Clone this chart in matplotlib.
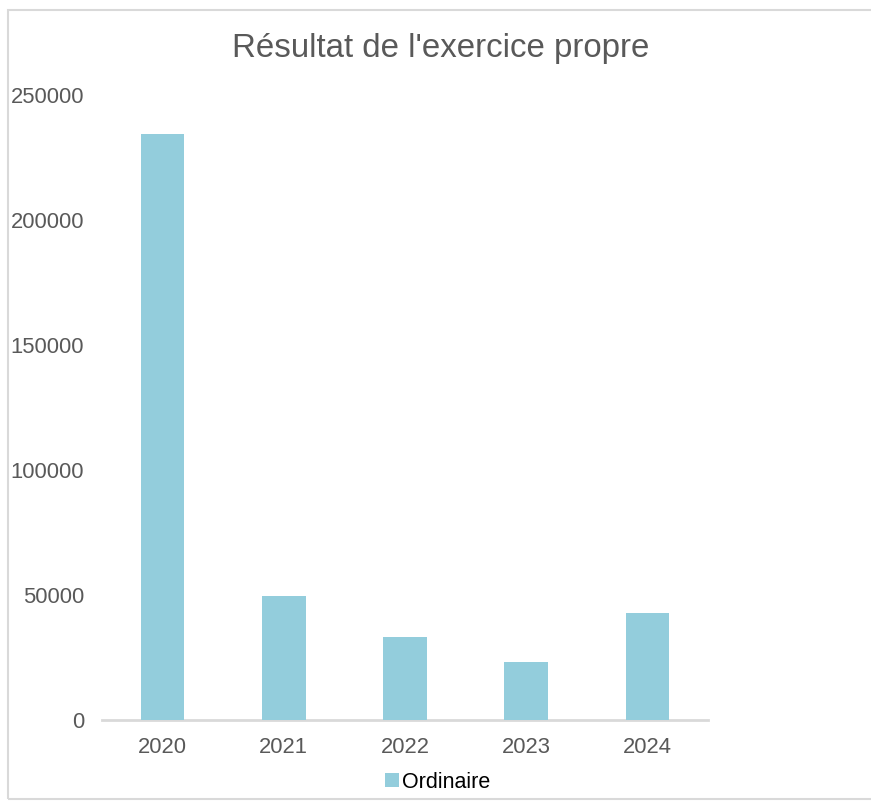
import matplotlib

matplotlib.use("Agg")
import matplotlib.pyplot as plt
from matplotlib.patches import Rectangle

plt.rcParams["font.family"] = ["Liberation Sans", "DejaVu Sans"]

years = ["2020", "2021", "2022", "2023", "2024"]
ordinaire = [234400, 49700, 33300, 23200, 42900]
yticks = [0, 50000, 100000, 150000, 200000, 250000]

BAR = "#93CDDC"
GREY = "#595959"

fig = plt.figure(figsize=(8.71, 8.01), dpi=100, facecolor="white")
ax = fig.add_axes([102 / 871, 1 - 720 / 801, (708 - 102) / 871, (720 - 95) / 801])

ax.bar(years, ordinaire, width=0.36, color=BAR, zorder=3, label="Ordinaire")
ax.axhline(0, color="#d9d9d9", lw=2, zorder=2, clip_on=False)

ax.set_ylim(0, 250000)
ax.set_xlim(-0.5, len(years) - 0.5)
ax.set_yticks(yticks)
ax.set_yticklabels([str(v) for v in yticks])
ax.tick_params(axis="y", length=0, pad=13, labelsize=15.8, labelcolor=GREY)
ax.tick_params(axis="x", length=0, pad=12, labelsize=15.8, labelcolor=GREY)
for s in ax.spines.values():
    s.set_visible(False)

fig.text(441 / 871, 1 - 48 / 801, "Résultat de l'exercice propre",
         ha="center", va="center", fontsize=23.8, color=GREY)

fig.legend(loc="center", bbox_to_anchor=(438 / 871, 1 - 782 / 801), frameon=False,
           fontsize=15.5, handlelength=0.65, handleheight=0.65, handletextpad=0.15,
           labelcolor="black")

# light chart-area frame (right edge falls off the image)
fig.add_artist(Rectangle((8 / 871, 2 / 801), 1.0, 789 / 801, transform=fig.transFigure,
                         fill=False, edgecolor="#d9d9d9", lw=1.5))

fig.savefig("out.png", dpi=100, facecolor="white")
